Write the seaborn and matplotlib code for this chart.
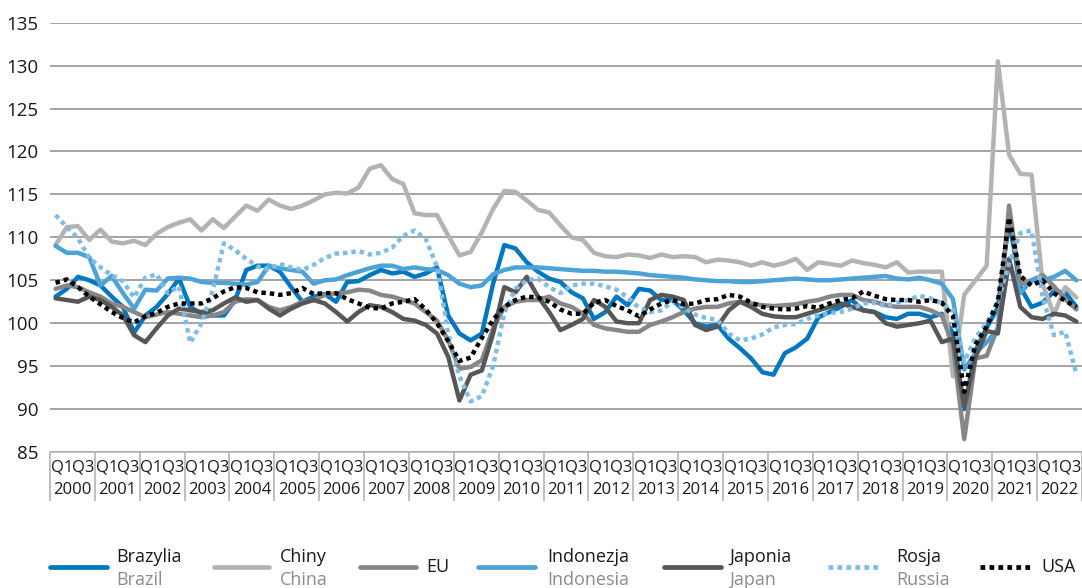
"""Quarterly index (same quarter of previous year = 100) for selected economies."""

import matplotlib
matplotlib.use("Agg")
import matplotlib.pyplot as plt
import numpy as np
import pandas as pd
import seaborn as sns

# --- data -------------------------------------------------------------------
years = list(range(2000, 2023))
quarter_ticks = ["Q1", "Q3"]

brazylia = [
    103.1, 104.0, 105.4, 105.0, 104.4, 103.1, 101.9, 98.9, 100.9, 101.9, 103.4, 105.2,
    101.9, 101.1, 100.9, 100.9, 102.7, 106.2, 106.7, 106.7, 106.0, 104.2, 102.5, 103.1,
    103.4, 102.5, 104.8, 104.9, 105.6, 106.2, 105.8, 106.0, 105.4, 105.8, 106.5, 100.9,
    98.8, 98.0, 98.8, 104.6, 109.1, 108.7, 107.1, 106.0, 105.2, 104.8, 103.6, 102.9,
    100.5, 101.3, 103.1, 102.1, 104.0, 103.8, 102.7, 102.7, 101.5, 100.0, 99.6, 99.8,
    98.2, 97.1, 95.9, 94.3, 94.0, 96.5, 97.2, 98.2, 100.7, 101.3, 101.9, 102.7,
    101.5, 101.3, 100.7, 100.5, 101.1, 101.1, 100.7, 101.1, 98.8, 90.0, 96.8, 99.5,
    101.8, 112.0, 104.2, 101.9, 102.4, 103.7, 103.6, 101.9,
]
chiny = [
    109.1, 111.2, 111.3, 109.7, 110.9, 109.5, 109.3, 109.6, 109.1, 110.4, 111.2, 111.7,
    112.1, 110.8, 112.1, 111.1, 112.4, 113.7, 113.1, 114.4, 113.7, 113.3, 113.7, 114.3,
    115.0, 115.2, 115.1, 115.8, 118.0, 118.4, 116.8, 116.2, 112.8, 112.6, 112.6, 110.2,
    107.9, 108.3, 110.6, 113.3, 115.4, 115.3, 114.3, 113.2, 112.9, 111.4, 110.0, 109.7,
    108.2, 107.8, 107.7, 108.0, 107.9, 107.6, 108.0, 107.7, 107.8, 107.7, 107.1, 107.4,
    107.3, 107.1, 106.7, 107.1, 106.7, 107.0, 107.5, 106.2, 107.1, 106.9, 106.7, 107.3,
    107.0, 106.8, 106.5, 107.1, 105.9, 106.0, 106.0, 106.0, 93.8, 103.3, 105.0, 106.7,
    130.5, 119.6, 117.4, 117.3, 104.5, 101.0, 104.2, 103.0,
]
eu = [
    104.0, 104.4, 104.2, 103.6, 103.1, 102.3, 101.9, 101.3, 100.7, 101.0, 101.3, 101.1,
    100.9, 100.7, 100.9, 101.3, 102.5, 102.8, 102.7, 101.9, 101.5, 101.9, 102.5, 102.7,
    103.3, 103.5, 103.6, 103.9, 103.8, 103.3, 103.1, 102.7, 102.3, 101.3, 100.3, 98.0,
    94.7, 94.9, 95.7, 99.4, 101.9, 102.5, 102.7, 102.7, 103.1, 102.3, 101.9, 101.1,
    99.8, 99.4, 99.2, 99.0, 99.0, 99.8, 100.2, 100.7, 101.3, 101.7, 101.9, 101.9,
    102.3, 102.5, 102.3, 102.1, 102.0, 102.1, 102.2, 102.5, 102.7, 103.1, 103.3, 103.3,
    102.7, 102.5, 102.1, 101.9, 101.9, 101.9, 101.5, 100.9, 97.4, 86.5, 95.9, 96.2,
    99.5, 113.7, 104.5, 105.0, 105.6, 104.3, 102.8, 101.6,
]
indonezja = [
    109.0, 108.2, 108.2, 107.7, 104.4, 105.5, 103.5, 101.7, 103.9, 103.8, 105.2, 105.3,
    105.2, 104.8, 104.7, 104.7, 104.6, 104.5, 104.8, 106.7, 106.4, 106.2, 106.0, 104.6,
    105.0, 105.1, 105.6, 106.0, 106.4, 106.7, 106.7, 106.3, 106.5, 106.3, 106.2, 105.6,
    104.6, 104.2, 104.4, 105.7, 106.2, 106.5, 106.5, 106.5, 106.4, 106.3, 106.2, 106.1,
    106.1, 106.0, 106.0, 105.9, 105.8, 105.6, 105.5, 105.4, 105.3, 105.1, 105.0, 104.9,
    104.9, 104.8, 104.8, 104.9, 105.0, 105.1, 105.2, 105.1, 105.0, 105.0, 105.1, 105.2,
    105.3, 105.4, 105.5, 105.2, 105.1, 105.3, 105.0, 104.6, 102.8, 94.6, 96.5, 97.8,
    99.3, 107.1, 103.5, 105.0, 105.0, 105.4, 106.1, 105.0,
]
japonia = [
    102.9, 102.7, 102.5, 103.1, 102.7, 101.9, 100.9, 98.6, 97.8, 99.4, 100.9, 101.7,
    101.5, 101.3, 101.5, 102.3, 103.0, 102.5, 102.7, 101.7, 100.9, 101.7, 102.3, 102.7,
    102.3, 101.3, 100.2, 101.3, 102.1, 101.9, 101.3, 100.5, 100.3, 99.8, 98.8, 96.1,
    91.0, 94.0, 94.5, 98.8, 104.2, 103.6, 105.4, 103.1, 101.3, 99.2, 99.8, 100.5,
    102.7, 101.9, 100.2, 100.0, 100.0, 102.7, 103.3, 103.1, 102.7, 99.8, 99.2, 99.6,
    101.5, 102.5, 101.9, 101.1, 100.8, 100.7, 100.7, 101.1, 101.5, 101.9, 102.3, 101.9,
    101.5, 101.3, 100.0, 99.6, 99.8, 100.0, 100.3, 97.8, 98.2, 90.3, 96.0, 99.1,
    98.8, 107.5, 101.9, 100.7, 100.5, 101.1, 100.9, 100.2,
]
rosja = [
    112.6, 111.2, 109.9, 107.6, 106.5, 105.6, 104.9, 103.0, 105.3, 105.7, 103.5, 104.3,
    97.7, 100.0, 103.8, 109.3, 108.5, 107.5, 106.6, 106.3, 106.9, 106.5, 106.2, 106.8,
    107.6, 108.1, 108.2, 108.4, 108.0, 108.2, 108.8, 110.2, 110.8, 109.8, 106.6, 98.8,
    93.8, 90.9, 91.5, 95.0, 101.2, 104.0, 105.0, 105.2, 104.2, 103.5, 104.4, 104.6,
    104.6, 104.3, 103.9, 103.0, 101.8, 101.3, 101.5, 102.5, 101.8, 101.0, 100.6, 100.4,
    98.8, 98.0, 98.2, 98.7, 99.5, 99.8, 99.9, 100.5, 100.9, 101.2, 101.3, 101.7,
    102.3, 102.4, 102.0, 102.4, 102.7, 103.2, 102.9, 102.3, 101.5, 95.5, 98.3, 100.0,
    102.5, 107.0, 110.5, 110.8, 103.0, 98.6, 99.0, 94.1,
]
usa = [
    104.7, 105.1, 104.2, 103.1, 102.2, 101.3, 100.6, 100.1, 100.8, 101.2, 101.9, 102.3,
    102.3, 102.3, 102.9, 103.7, 104.2, 104.1, 103.6, 103.5, 103.3, 103.5, 104.1, 103.4,
    103.5, 103.5, 102.8, 102.3, 101.8, 101.7, 102.3, 102.5, 102.8, 101.6, 100.0, 97.9,
    95.6, 96.0, 98.3, 100.4, 101.9, 102.7, 103.1, 103.0, 102.5, 101.6, 101.1, 101.1,
    102.4, 102.7, 102.0, 101.5, 100.8, 101.6, 102.3, 102.7, 102.2, 102.3, 102.7, 102.8,
    103.3, 103.1, 102.4, 101.9, 101.7, 101.6, 101.7, 102.0, 101.8, 102.3, 102.7, 102.9,
    103.7, 103.2, 102.8, 102.7, 102.7, 102.5, 102.7, 102.4, 100.8, 92.0, 97.5, 99.6,
    102.5, 112.3, 105.5, 104.4, 105.0, 103.5, 102.6, 101.9,
]

names_pl = ["Brazylia", "Chiny", "EU", "Indonezja", "Japonia", "Rosja", "USA"]
names_en = ["Brazil", "China", "", "Indonesia", "Japan", "Russia", ""]
values = [brazylia, chiny, eu, indonezja, japonia, rosja, usa]

colors = {
    "Brazylia": "#0078c1",
    "Chiny": "#b3b3b3",
    "EU": "#878787",
    "Indonezja": "#4da3d6",
    "Japonia": "#575757",
    "Rosja": "#80bde6",
    "USA": "#000000",
}
dot = (1, 0.9)
dashes = {n: "" for n in names_pl}
dashes["Rosja"] = dot
dashes["USA"] = dot

frames = []
for name, vals in zip(names_pl, values):
    frames.append(pd.DataFrame({"t": np.arange(len(vals)), "value": vals, "kraj": name}))
df = pd.concat(frames, ignore_index=True)

# --- figure -------------------------------------------------------------------
sns.set_theme(style="white")
plt.rcParams["font.family"] = ["Open Sans", "DejaVu Sans"]

W, H = 1082, 588
fig = plt.figure(figsize=(W / 100, H / 100), dpi=100)
ax = fig.add_axes([50 / W, (H - 452) / H, 1032 / W, (452 - 22.7) / H])

sns.lineplot(
    data=df, x="t", y="value", hue="kraj", style="kraj",
    hue_order=names_pl, style_order=names_pl,
    palette=colors, dashes=dashes, linewidth=3.2,
    legend=False, sort=False, ax=ax,
)

ax.set_xlim(-0.5, len(usa) - 0.5)
ax.set_ylim(85, 135)
ax.set_yticks(range(85, 136, 5))
ax.set_xticks([])
ax.set_xlabel("")
ax.set_ylabel("")
ax.yaxis.grid(True, color="#8c8c8c", linewidth=1.1)
ax.xaxis.grid(False)
for side in ["top", "right", "left"]:
    ax.spines[side].set_visible(False)
ax.spines["bottom"].set_color("#b4b4b4")
ax.spines["bottom"].set_linewidth(1.2)
ax.tick_params(axis="y", length=0, pad=8, labelsize=13.5, labelcolor="#1a1a1a")

# two-level category axis: Q1/Q3 and year boxes
narrow = ["Liberation Sans Narrow", "Open Sans", "DejaVu Sans"]
trans = ax.get_xaxis_transform()
for k, yr in enumerate(years):
    x0 = 4 * k
    ax.text(x0 + 0.55, -0.036, quarter_ticks[0], transform=trans, ha="center",
            va="center", fontsize=12, family=narrow, color="#1a1a1a")
    ax.text(x0 + 2.45, -0.036, quarter_ticks[1], transform=trans, ha="center",
            va="center", fontsize=12, family=narrow, color="#1a1a1a")
    ax.text(x0 + 1.5, -0.089, str(yr), transform=trans, ha="center",
            va="center", fontsize=12, family=narrow, color="#1a1a1a")
ax.vlines([4 * k - 0.5 for k in range(len(years) + 1)], -0.113, 0,
          transform=trans, colors="#b4b4b4", linewidth=1.2, clip_on=False)

# legend drawn in pixel space
lax = fig.add_axes([0, 0, 1, 1])
lax.set_xlim(0, W)
lax.set_ylim(H, 0)
lax.axis("off")
lax.patch.set_alpha(0)
handle_x = [(50, 107), (214, 269), (360, 416), (478, 535), (664, 721), (828, 880), (980, 1030)]
text_x = [116, 280, 426, 547, 729, 896, 1041]
for name, en, (h0, h1), tx in zip(names_pl, names_en, handle_x, text_x):
    lax.plot([h0, h1], [567, 567], color=colors[name], linewidth=3.4,
             dashes=dashes[name] if dashes[name] else (None, None))
    if en:
        lax.text(tx, 557, name, fontsize=13, va="center", color="#1a1a1a")
        lax.text(tx, 580, en, fontsize=13, va="center", color="#8c8c8c")
    else:
        lax.text(tx, 567, name, fontsize=13, va="center", color="#1a1a1a")

fig.savefig("out.png", dpi=100)
plt.close(fig)
